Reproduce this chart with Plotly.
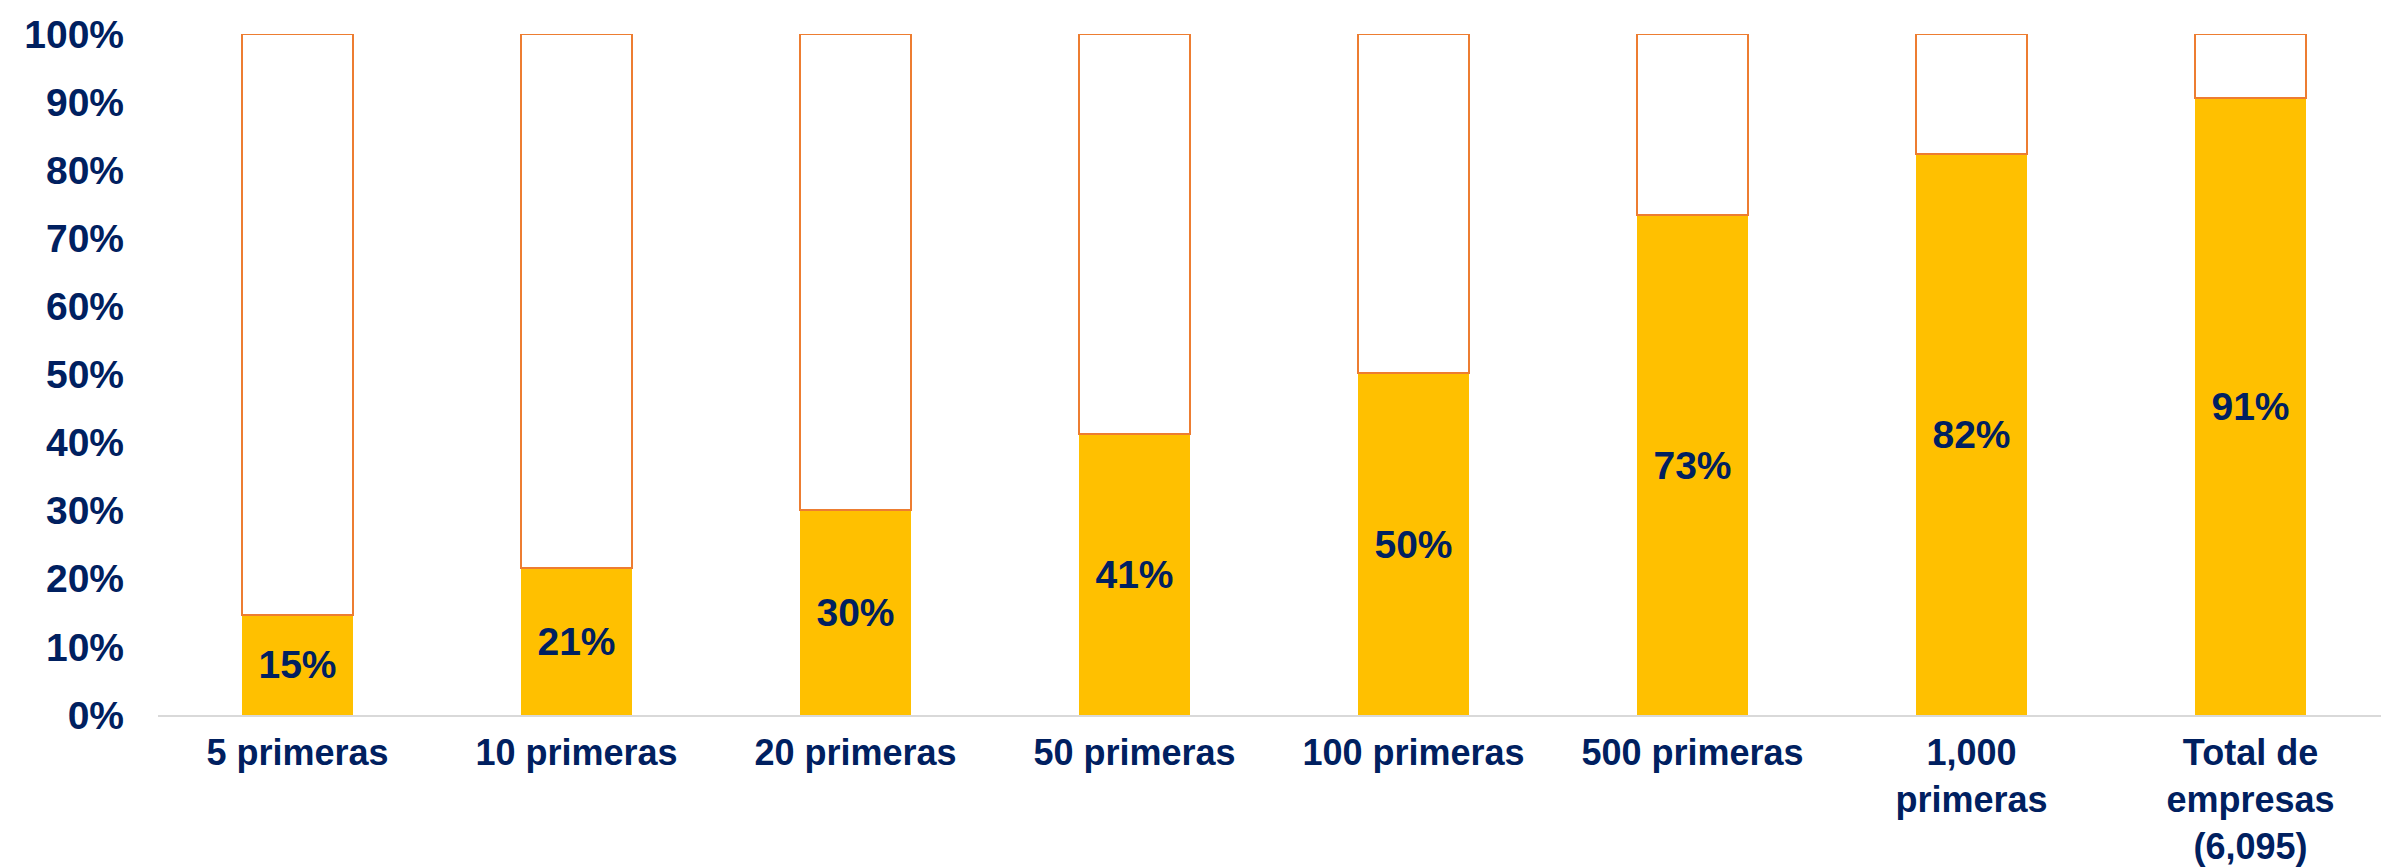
import plotly.graph_objects as go

categories = ["5 primeras", "10 primeras", "20 primeras", "50 primeras",
              "100 primeras", "500 primeras", "1,000<br>primeras",
              "Total de<br>empresas<br>(6,095)"]
share = [14.7, 21.6, 30.1, 41.3, 50.2, 73.4, 82.4, 90.6]
labels = ["15%", "21%", "30%", "41%", "50%", "73%", "82%", "91%"]
rest = [100 - v for v in share]
y_ticks = [0, 10, 20, 30, 40, 50, 60, 70, 80, 90, 100]

NAVY = "#002060"
YELLOW = "#FFC000"
ORANGE = "#ED7D31"
FONT = "Liberation Sans, Arial, sans-serif"

fig = go.Figure()
fig.add_trace(go.Bar(
    x=categories, y=share, text=labels,
    marker=dict(color=YELLOW, line=dict(width=0)),
    textposition="inside", insidetextanchor="middle",
    textfont=dict(family=FONT, size=39, color=NAVY, weight="bold"),
    showlegend=False, hoverinfo="skip",
))
fig.add_trace(go.Bar(
    x=categories, y=rest,
    marker=dict(color="white", line=dict(color=ORANGE, width=2)),
    showlegend=False, hoverinfo="skip",
))

fig.update_layout(
    barmode="stack",
    bargap=0.6,
    width=2389, height=867,
    margin=dict(l=150, r=7, t=26, b=160),
    paper_bgcolor="white", plot_bgcolor="white",
    font=dict(family=FONT, size=39, color=NAVY, weight="bold"),
)
fig.update_xaxes(
    automargin=False,
    showline=True, linecolor="#D9D9D9", linewidth=2,
    showgrid=False, ticks="", tickangle=0,
    tickfont=dict(family=FONT, size=36, color=NAVY, weight="bold"),
    ticklabelstandoff=5,
)
fig.update_yaxes(
    automargin=False,
    range=[0, 100], tickvals=y_ticks,
    ticktext=[f"{t}%" for t in y_ticks],
    showgrid=False, showline=False, zeroline=False, ticks="",
    tickfont=dict(family=FONT, size=39, color=NAVY, weight="bold"),
    ticklabelstandoff=33,
)

fig.write_html("out.html")
